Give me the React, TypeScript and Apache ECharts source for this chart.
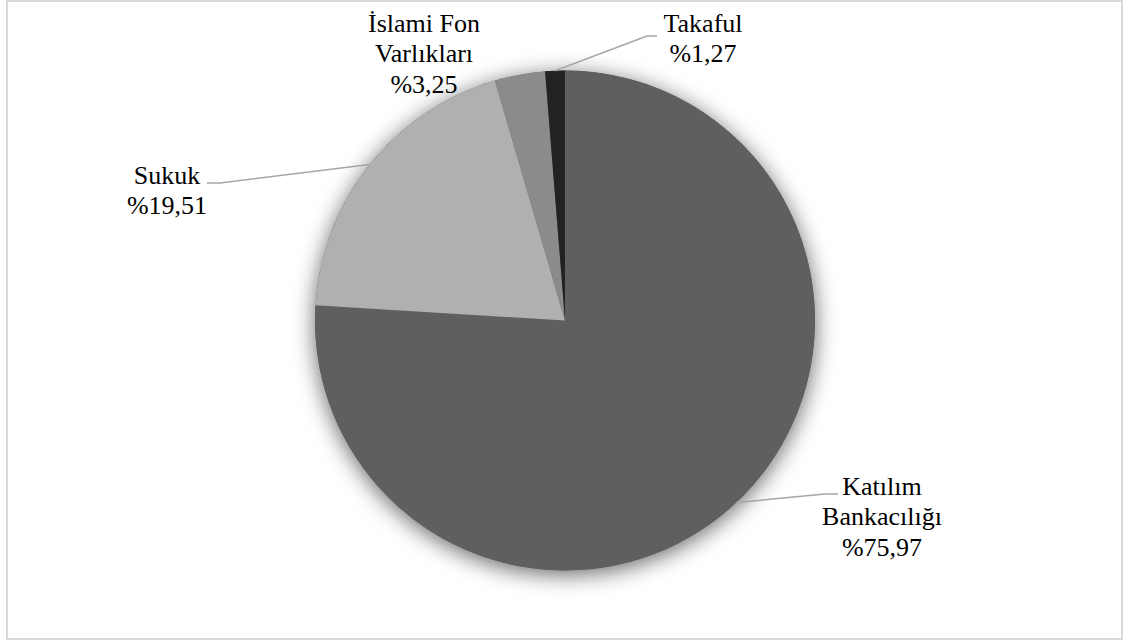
import React, { useEffect, useRef } from "react";
import * as echarts from "echarts";

const categories = ["Katılım Bankacılığı", "Sukuk", "İslami Fon Varlıkları", "Takaful"];
const labelLines = [["Katılım", "Bankacılığı"], ["Sukuk"], ["İslami Fon", "Varlıkları"], ["Takaful"]];
const values = [75.97, 19.51, 3.25, 1.27];
const colors = ["#5f5f5f", "#b0b0b0", "#8b8b8b", "#222222"];

// label layout (x centre, y of first line middle)
const labelAnchors = [
  [882, 486],
  [167, 175],
  [424, 23],
  [703, 23],
];
// leader elbow and end points (null = no leader)
const leaderEnds: (number[] | null)[] = [
  [825, 494, 838, 494],
  [220, 183, 207, 183],
  null,
  [647, 36, 657, 36],
];

const FONT = "Liberation Serif";
const CENTER = [565, 320.5];
const RADIUS = 250;
const LINE_H = 30.5;

const css =
  "#pie-chart-root svg text, #pie-chart-root svg tspan { font-family: 'Liberation Serif', 'Times New Roman', serif !important; }";

export default function App() {
  const ref = useRef<HTMLDivElement>(null);
  useEffect(() => {
    if (!ref.current) return;
    const chart = echarts.init(ref.current, null, { renderer: "svg" });
    const total = values.reduce((a, b) => a + b, 0);
    const graphics: any[] = [
      {
        type: "rect",
        shape: { x: 7, y: 1, width: 1115, height: 638 },
        style: { fill: "none", stroke: "#d9d9d9", lineWidth: 2 },
        silent: true,
        z: 0,
      },
    ];
    let cum = 0;
    values.forEach((v, i) => {
      const midFrac = (cum + v / 2) / total;
      cum += v;
      const ang = midFrac * Math.PI * 2 - Math.PI / 2;
      const sx = CENTER[0] + RADIUS * Math.cos(ang);
      const sy = CENTER[1] + RADIUS * Math.sin(ang);
      const le = leaderEnds[i];
      if (le) {
        graphics.push({
          type: "polyline",
          shape: { points: [[sx, sy], [le[0], le[1]], [le[2], le[3]]] },
          style: { stroke: "#a6a6a6", lineWidth: 1.5, fill: "none" },
          silent: true,
          z: 10,
        });
      }
      const lines = [...labelLines[i], "%" + v.toFixed(2).replace(".", ",")];
      lines.forEach((t, k) => {
        graphics.push({
          type: "text",
          x: labelAnchors[i][0],
          y: labelAnchors[i][1] + k * LINE_H,
          silent: true,
          z: 11,
          style: {
            text: t,
            fontFamily: FONT,
            fontSize: 26,
            fill: "#000000",
            align: "center",
            verticalAlign: "middle",
          },
        });
      });
    });
    chart.setOption({
      animation: false,
      backgroundColor: "#ffffff",
      textStyle: { fontFamily: FONT },
      graphic: graphics,
      series: [
        {
          type: "pie",
          center: CENTER,
          radius: RADIUS,
          silent: true,
          z: 1,
          label: { show: false },
          labelLine: { show: false },
          itemStyle: {
            color: "#5f5f5f",
            shadowBlur: 22,
            shadowColor: "rgba(0,0,0,0.6)",
            shadowOffsetY: 4,
          },
          data: [{ value: 1, name: "" }],
          tooltip: { show: false },
        },
        {
          type: "pie",
          center: CENTER,
          radius: RADIUS,
          z: 2,
          startAngle: 90,
          clockwise: true,
          itemStyle: { borderWidth: 0 },
          label: { show: false },
          labelLine: { show: false },
          data: values.map((v, i) => ({
            value: v,
            name: categories[i],
            itemStyle: { color: colors[i] },
          })),
        },
      ],
    });
    return () => chart.dispose();
  }, []);
  return (
    <>
      <style>{css}</style>
      <div
        id="pie-chart-root"
        ref={ref}
        style={{
          position: "absolute",
          left: 0,
          top: 0,
          width: 1125,
          height: 641,
          fontFamily: "'Liberation Serif', serif",
        }}
      />
    </>
  );
}
